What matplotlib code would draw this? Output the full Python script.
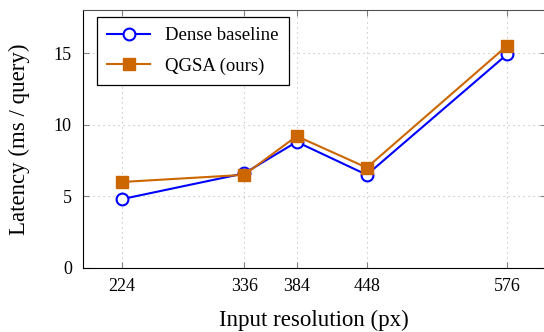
import matplotlib
matplotlib.use("Agg")
import matplotlib.pyplot as plt

# data
resolution = [224, 336, 384, 448, 576]
dense_latency = [4.8, 6.6, 8.8, 6.5, 14.9]
qgsa_latency = [6.0, 6.5, 9.2, 7.0, 15.5]
y_ticks = [0, 5, 10, 15]

plt.rcParams['font.family'] = ['Liberation Serif', 'DejaVu Serif']

fig = plt.figure(figsize=(5.44, 3.32), dpi=100)
ax = fig.add_axes([83 / 544, 64 / 332, 462.5 / 544, 258 / 332])

ax.plot(resolution, dense_latency, color='#0000ff', lw=1.5, marker='o',
        ms=8.5, mfc='white', mec='#0000ff', mew=1.5, label='Dense baseline', zorder=3)
ax.plot(resolution, qgsa_latency, color='#cc6600', lw=1.5, marker='s',
        ms=9, mfc='#cc6600', mec='#cc6600', label='QGSA (ours)', zorder=4)

span = resolution[-1] - resolution[0]
ax.set_xlim(resolution[0] - 0.1 * span, resolution[-1] + 0.1 * span)
ax.set_ylim(0, 18)
ax.set_xticks(resolution)
ax.set_yticks(y_ticks)

ax.grid(True, linestyle=(0, (1, 3.5)), color='#b8b8b8', lw=0.8)
ax.tick_params(direction='in', top=True, right=True, length=4, width=0.8,
               color='#808080', labelsize=13)
ax.tick_params(axis='x', pad=7)
ax.tick_params(axis='y', pad=8)
for side in ['left', 'bottom']:
    ax.spines[side].set_color('black')
for side in ['top', 'right']:
    ax.spines[side].set_color('#505050')

ax.set_xlabel('Input resolution (px)', fontsize=16.5, labelpad=11)
ax.set_ylabel('Latency (ms / query)', fontsize=16.5, labelpad=17)

leg = ax.legend(loc='upper left', bbox_to_anchor=(0.03, 0.973), borderaxespad=0,
                fontsize=13.5, fancybox=False, framealpha=1, edgecolor='black',
                handlelength=2.3, borderpad=0.55, labelspacing=0.7)
leg.get_frame().set_linewidth(0.9)

fig.savefig('out.png', dpi=100)
